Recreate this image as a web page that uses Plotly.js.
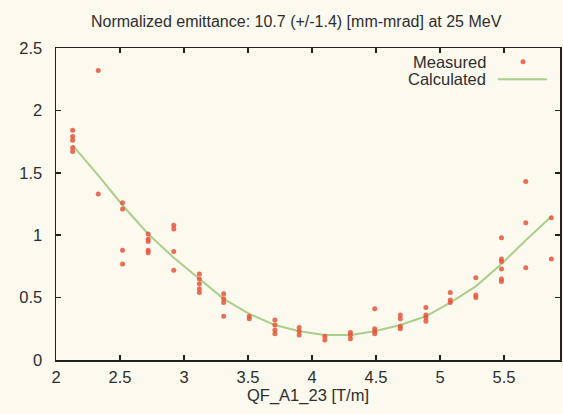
<!DOCTYPE html>
<html>
<head>
<meta charset="utf-8">
<script src="https://cdn.plot.ly/plotly-3.0.1.min.js"></script>
<style>html,body{margin:0;padding:0;background:#fcf9ef;}#chart{width:563px;height:414px;}</style>
</head>
<body>
<div id="chart"></div>
<script>
// Quadrupole gradient settings [T/m]
const gradients = [2.13, 2.33, 2.52, 2.72, 2.92, 3.12, 3.31, 3.51, 3.71, 3.90,
                   4.10, 4.30, 4.49, 4.69, 4.89, 5.08, 5.28, 5.48, 5.67, 5.87];
// Measured beam size values per gradient setting
const measured = [
  [1.84, 1.79, 1.76, 1.70, 1.67],
  [2.32, 1.33],
  [1.26, 1.21, 0.88, 0.77],
  [1.01, 0.97, 0.95, 0.88, 0.86],
  [1.08, 1.05, 0.87, 0.72],
  [0.69, 0.65, 0.61, 0.57, 0.54],
  [0.53, 0.49, 0.46, 0.35],
  [0.35, 0.33],
  [0.32, 0.28, 0.24, 0.21],
  [0.26, 0.23, 0.20],
  [0.19, 0.16],
  [0.22, 0.20, 0.17],
  [0.41, 0.25, 0.23, 0.21],
  [0.36, 0.33, 0.27, 0.25],
  [0.42, 0.36, 0.34, 0.31],
  [0.54, 0.48, 0.46],
  [0.66, 0.52, 0.50],
  [0.98, 0.81, 0.79, 0.73, 0.65, 0.63],
  [1.43, 1.10, 0.74],
  [1.14, 0.81]
];
// Calculated (fitted) curve
const calculated = [1.72, 1.48, 1.24, 1.01, 0.82, 0.65, 0.49, 0.37, 0.28, 0.23,
                    0.20, 0.20, 0.23, 0.28, 0.35, 0.46, 0.59, 0.77, 0.96, 1.15];
const xTicks = [2, 2.5, 3, 3.5, 4, 4.5, 5, 5.5];
const yTicks = [0, 0.5, 1, 1.5, 2, 2.5];

const mx = [], my = [];
gradients.forEach((g, i) => measured[i].forEach(v => { mx.push(g); my.push(v); }));

const bg = '#fcf9ef';
const red = '#e6553a';
const green = '#a9cf8a';
const font = 'Liberation Sans, Arial, sans-serif';
const txt = '#2e2e2e';

const traces = [
  {x: gradients, y: calculated, mode: 'lines', name: 'Calculated',
   line: {color: green, width: 2}, showlegend: false},
  {x: mx, y: my, mode: 'markers', name: 'Measured',
   marker: {symbol: 'circle', size: 5, color: red, opacity: 0.85}, showlegend: false}
];

const axisCommon = {
  showgrid: false, zeroline: false, showline: true, linecolor: '#222', linewidth: 1.5,
  mirror: 'ticks', ticks: 'inside', ticklen: 5, tickcolor: '#222', tickwidth: 1.5,
  tickfont: {family: font, size: 16.5, color: txt}
};

const layout = {
  width: 563, height: 414,
  paper_bgcolor: bg, plot_bgcolor: bg,
  margin: {l: 56, r: 3, t: 48, b: 54},
  title: {text: 'Normalized emittance: 10.7 (+/-1.4) [mm-mrad] at 25 MeV',
          font: {family: font, size: 16, color: txt}, x: 0.526, xanchor: 'center', y: 0.949, yanchor: 'middle'},
  xaxis: Object.assign({}, axisCommon, {
    range: [2, 5.9375], tickvals: xTicks, ticktext: xTicks.map(String),
    ticklabelstandoff: 2,
    title: {text: 'QF_A1_23 [T/m]', font: {family: font, size: 16.5, color: txt}, standoff: 2}
  }),
  yaxis: Object.assign({}, axisCommon, {
    range: [0, 2.5], tickvals: yTicks, ticktext: yTicks.map(String),
    ticklabelstandoff: 9
  }),
  showlegend: false,
  annotations: [
    {xref: 'paper', yref: 'paper', x: 0.857, y: 0.956, xanchor: 'right', yanchor: 'middle',
     text: 'Measured', showarrow: false, font: {family: font, size: 16.5, color: txt}},
    {xref: 'paper', yref: 'paper', x: 0.857, y: 0.900, xanchor: 'right', yanchor: 'middle',
     text: 'Calculated', showarrow: false, font: {family: font, size: 16.5, color: txt}}
  ],
  shapes: [
    {type: 'line', xref: 'paper', yref: 'paper', x0: 0.877, x1: 0.974, y0: 0.900, y1: 0.900,
     line: {color: green, width: 2}},
    {type: 'circle', xref: 'paper', yref: 'paper', x0: 0.9216, x1: 0.9316, y0: 0.948, y1: 0.964,
     fillcolor: red, line: {width: 0}, opacity: 0.85}
  ]
};

Plotly.newPlot('chart', traces, layout, {displayModeBar: false, staticPlot: true});
</script>
</body>
</html>
